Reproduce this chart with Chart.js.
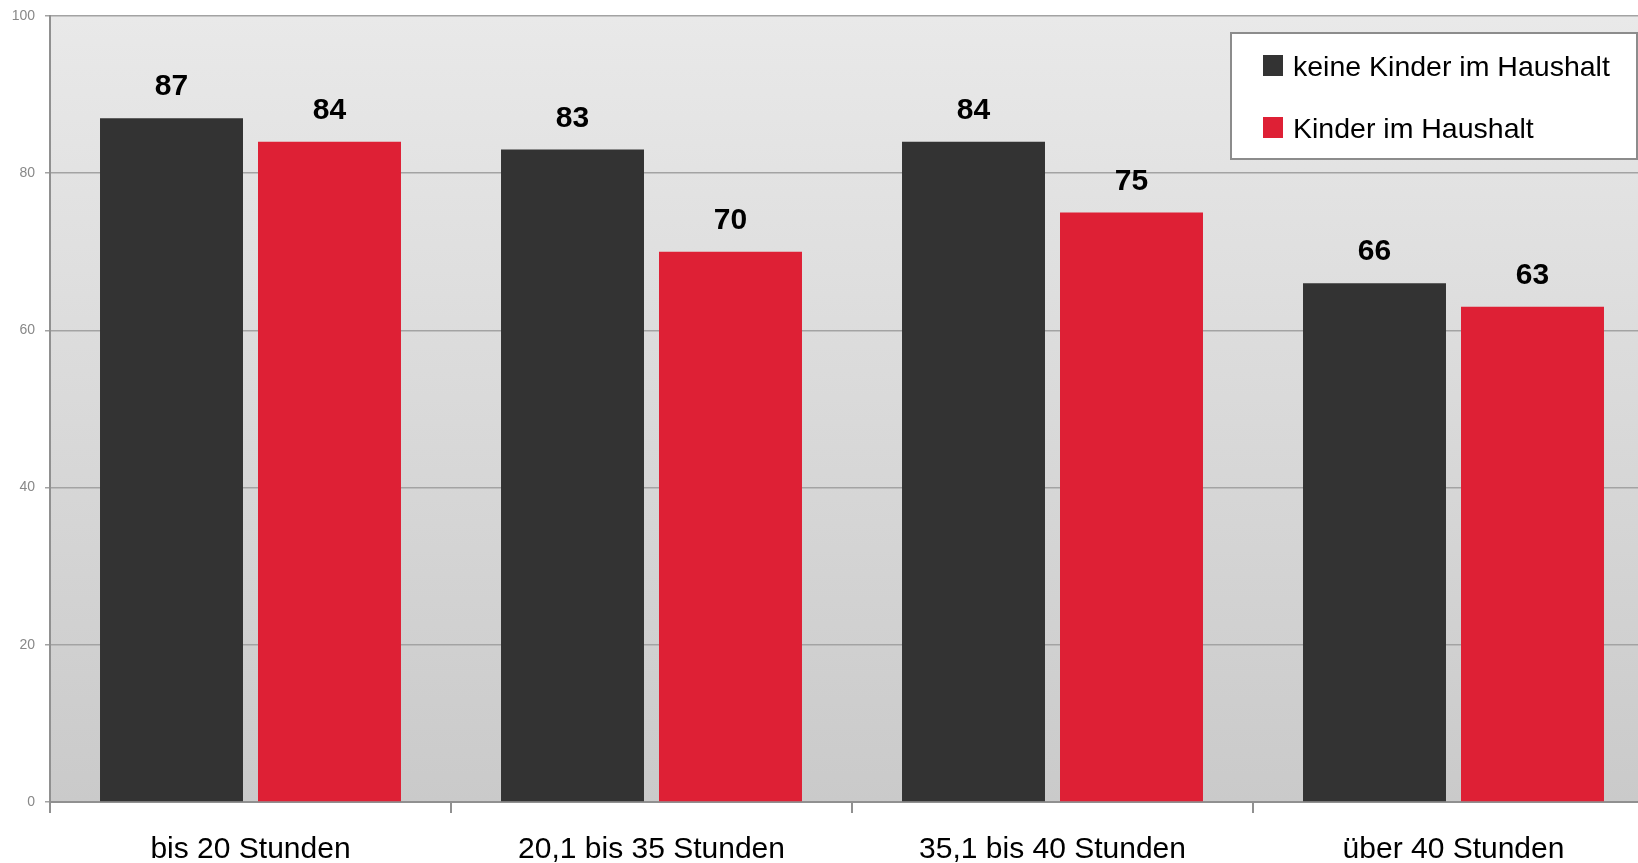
<!DOCTYPE html>
<html>
<head>
<meta charset="utf-8">
<script src="https://cdn.jsdelivr.net/npm/chart.js@4"></script>
<style>
  html, body { margin: 0; padding: 0; background: #fff; overflow: hidden; }
  #wrap { width: 1660px; height: 863px; }
</style>
</head>
<body>
<div id="wrap"><canvas id="chart"></canvas></div>
<script>
const categories = ['bis 20 Stunden', '20,1 bis 35 Stunden', '35,1 bis 40 Stunden', 'über 40 Stunden']
const seriesNames = ['keine Kinder im Haushalt', 'Kinder im Haushalt']
const noKids = [87, 83, 84, 66]
const withKids = [84, 70, 75, 63]
const yTicks = [0, 20, 40, 60, 80, 100]
const colors = ['#333333', '#de2035']

const FONT = "'Liberation Sans', Arial, sans-serif"

// gradient background of the plot area
const plotBackground = {
    id: 'plotBackground',
    beforeDraw(chart) {
        const { ctx, chartArea: a } = chart
        const g = ctx.createLinearGradient(0, a.top, 0, a.bottom)
        g.addColorStop(0, '#e9e9e9')
        g.addColorStop(1, '#cacaca')
        ctx.save()
        ctx.fillStyle = g
        ctx.fillRect(a.left, a.top, a.right - a.left, a.bottom - a.top)
        ctx.restore()
    }
}

// value labels above the bars
const valueLabels = {
    id: 'valueLabels',
    afterDatasetsDraw(chart) {
        const ctx = chart.ctx
        ctx.save()
        ctx.font = 'bold 30px ' + FONT
        ctx.fillStyle = '#000'
        ctx.textAlign = 'center'
        ctx.textBaseline = 'alphabetic'
        chart.data.datasets.forEach((ds, i) => {
            chart.getDatasetMeta(i).data.forEach((bar, j) => {
                ctx.fillText(ds.data[j], bar.x, bar.y - 23)
            })
        })
        ctx.restore()
    }
}

// boxed legend inside the plot area, top right
const boxLegend = {
    id: 'boxLegend',
    afterDraw(chart) {
        const { ctx, chartArea: a } = chart
        const right = a.right - 17, top = a.top + 17
        const w = 406, h = 126, left = right - w
        ctx.save()
        ctx.fillStyle = '#fff'
        ctx.fillRect(left, top, w, h)
        ctx.strokeStyle = '#8c8c8c'
        ctx.lineWidth = 2
        ctx.strokeRect(left, top, w, h)
        ctx.font = '28.5px ' + FONT
        ctx.textBaseline = 'alphabetic'
        ctx.textAlign = 'left'
        chart.data.datasets.forEach((ds, i) => {
            const y = top + 22 + i * 62
            ctx.fillStyle = ds.backgroundColor
            ctx.fillRect(left + 32, y, 20, 21)
            ctx.fillStyle = '#000'
            ctx.fillText(ds.label, left + 62, y + 21)
        })
        ctx.restore()
    }
}

new Chart(document.getElementById('chart'), {
    type: 'bar',
    data: {
        labels: categories,
        datasets: [
            { label: seriesNames[0], data: noKids, backgroundColor: colors[0] },
            { label: seriesNames[1], data: withKids, backgroundColor: colors[1] }
        ]
    },
    options: {
        responsive: true,
        maintainAspectRatio: false,
        devicePixelRatio: 1,
        animation: false,
        categoryPercentage: 0.788,
        barPercentage: 0.905,
        layout: { padding: { top: 16, right: 6, left: 0, bottom: 0 } },
        plugins: {
            legend: { display: false },
            tooltip: { enabled: false }
        },
        scales: {
            x: {
                afterFit: s => { s.height = 61 },
                border: { color: '#909090', width: 2 },
                grid: { offset: true, drawOnChartArea: false, tickLength: 11, color: '#909090', lineWidth: 2 },
                ticks: { color: '#000', font: { family: FONT, size: 30 }, padding: 19, maxRotation: 0 }
            },
            y: {
                min: 0,
                max: 100,
                afterFit: s => { s.width = 50; s.paddingTop = 0; s.paddingBottom = 0 },
                afterBuildTicks: s => { s.ticks = yTicks.map(v => ({ value: v })) },
                border: { color: '#909090', width: 2 },
                grid: { color: '#a3a3a3', lineWidth: 1.5, tickLength: 5 },
                ticks: { color: '#888', font: { family: FONT, size: 14 }, padding: 10 }
            }
        }
    },
    plugins: [plotBackground, valueLabels, boxLegend]
});
</script>
</body>
</html>
